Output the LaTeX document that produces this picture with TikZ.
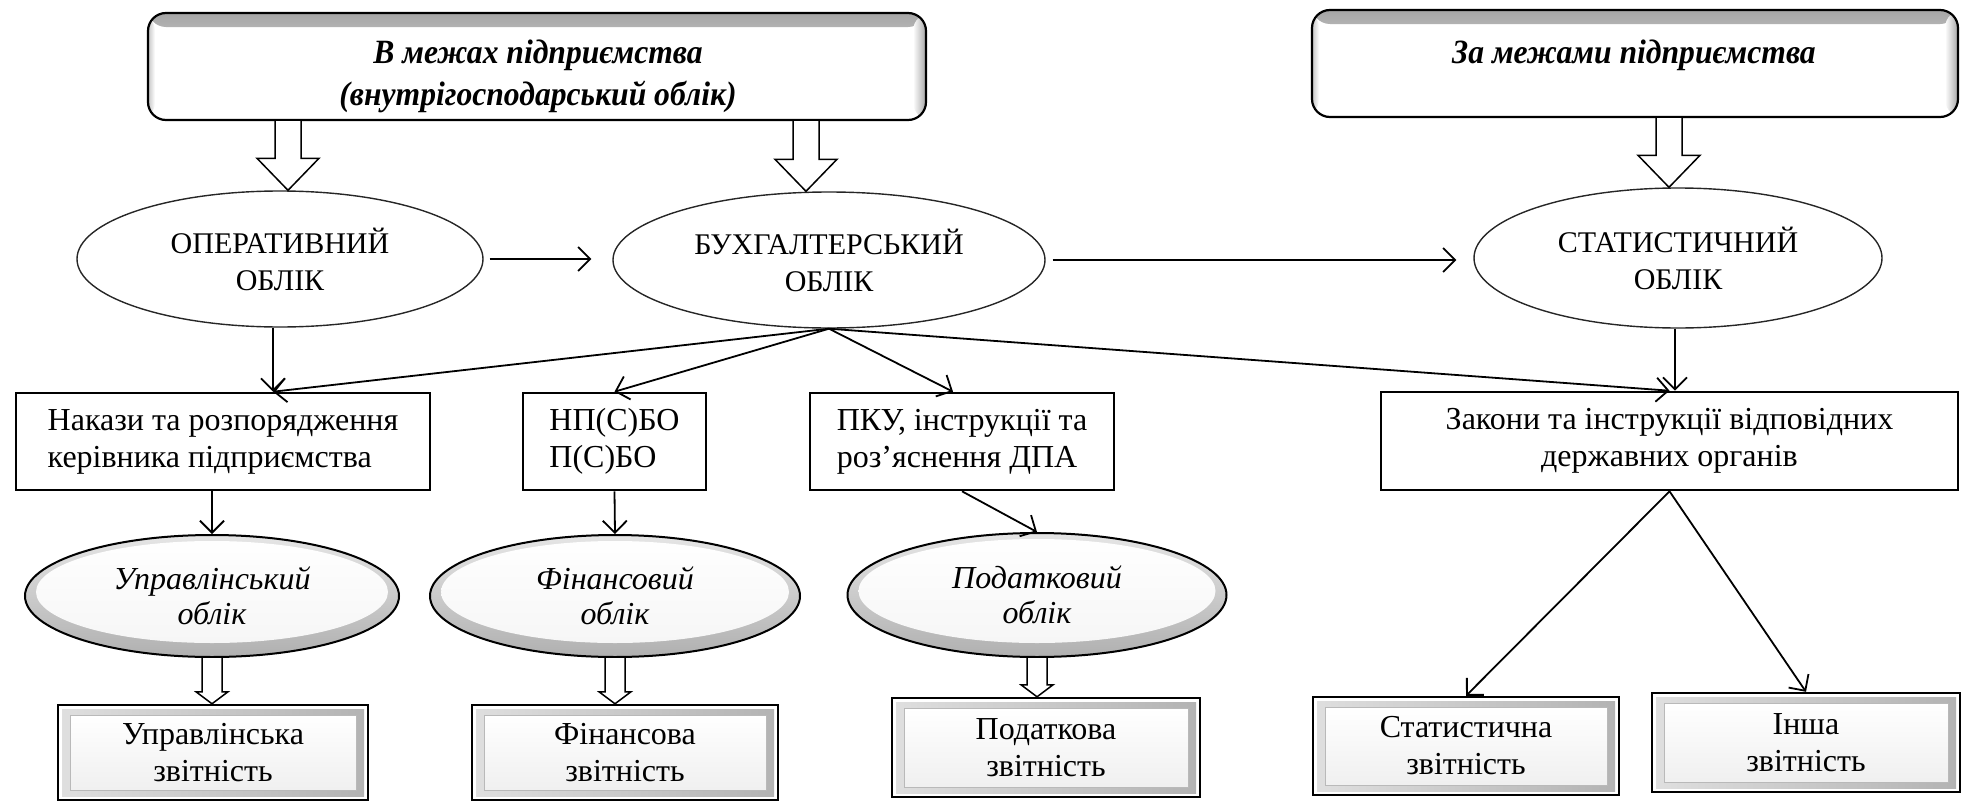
\documentclass[tikz,border=0pt]{standalone}
\usepackage{fontspec}
\setmainfont{Liberation Serif}
\newfontfamily\ttlfont{Liberation Serif}[FakeStretch=0.93]
\usetikzlibrary{shapes.geometric,arrows.meta,calc}
% #1 from node, #2 to node, #3 node giving x, #4 shaft half width, #5 head half width, #6 head length, #7 x offset
\newcommand\hollowdown[7]{%
 \draw[hollow] let \p1=(#1.south), \p2=(#2.north), \p3=([xshift=#7pt]#3.north) in
  ({\x3-#4pt},{\y1}) -- ({\x3-#4pt},{\y2+#6pt}) -- ({\x3-#5pt},{\y2+#6pt}) -- ({\x3},{\y2})
  -- ({\x3+#5pt},{\y2+#6pt}) -- ({\x3+#4pt},{\y2+#6pt}) -- ({\x3+#4pt},{\y1});}
\begin{document}
\begin{tikzpicture}[x=1pt,y=-1pt,
 txt/.style={font=\fontsize{32}{37}\selectfont},
 ttl/.style={font=\fontsize{34}{42}\selectfont\ttlfont\bfseries\itshape, align=center, inner sep=0pt},
 con/.style={line width=1.8pt, -{Straight Barb[length=12pt,width=24pt]}},
 hollow/.style={draw, line width=1.5pt, fill=white, line join=miter},
 topbox/.style={draw, line width=2.2pt, rounded corners=18pt, fill=white, inner sep=0pt,
   path picture={
     \shade[top color=gray!70, bottom color=white] (path picture bounding box.north west) rectangle ([yshift=-14pt]path picture bounding box.north east);
     \shade[left color=white, right color=gray!70] ([xshift=-13pt]path picture bounding box.south east) rectangle (path picture bounding box.north east);
     \shade[left color=gray!45, right color=white] (path picture bounding box.south west) rectangle ([xshift=7pt]path picture bounding box.north west);
   }},
 ell/.style={ellipse, draw=black!85, line width=1.4pt, inner sep=0pt, align=center, font=\fontsize{30}{37}\selectfont},
 sell/.style={ellipse, draw, line width=2pt, inner sep=0pt, align=center,
   font=\fontsize{32}{35}\selectfont\itshape, top color=gray!20, bottom color=gray!62,
   path picture={
     \shade[top color=white, bottom color=gray!8] let \p1=(path picture bounding box.north east), \p2=(path picture bounding box.center) in
       ([yshift=4pt]\x2,\y2) ellipse [x radius={\x1-\x2-11pt}, y radius={\y1-\y2-10pt}];
   }},
 mbox/.style={draw, line width=2.6pt, inner sep=0pt, txt},
 rbox/.style={draw, line width=2.4pt, inner sep=0pt, align=center, txt, fill=white,
   path picture={
     \shade[left color=gray!25, right color=gray!60] ([xshift=4pt,yshift=4pt]path picture bounding box.south west) rectangle ([xshift=-4pt,yshift=-4pt]path picture bounding box.north east);
     \shade[top color=white, bottom color=gray!12, draw=gray!55, line width=0.6pt] ([xshift=12pt,yshift=10pt]path picture bounding box.south west) rectangle ([xshift=-12pt,yshift=-10pt]path picture bounding box.north east);
   }}
]
\useasboundingbox (0,0) rectangle (1966,803);

% top boxes
\node[topbox, minimum width=778pt, minimum height=107pt] (tl) at (537,66.5) {};
\node[ttl] (tlt) at (538,76) {В межах підприємства\\(внутрігосподарський облік)};
\node[topbox, minimum width=646pt, minimum height=107pt] (tr) at (1635,63.5) {};
\node[ttl] (trt) at (1634,55) {За межами підприємства};

% ellipses
\node[ell, minimum width=406pt, minimum height=136pt] (op) at (280,259) {ОПЕРАТИВНИЙ\\ОБЛІК};
\node[ell, minimum width=432pt, minimum height=136pt] (bux) at (829,260) {БУХГАЛТЕРСЬКИЙ\\ОБЛІК};
\node[ell, minimum width=408pt, minimum height=140pt] (stat) at (1678,258) {СТАТИСТИЧНИЙ\\ОБЛІК};

% middle boxes
\node[mbox, minimum width=414pt, minimum height=97pt, align=left] (nak) at (223,441.5) {Накази та розпорядження\\керівника підприємства};
\node[mbox, minimum width=183pt, minimum height=97pt, align=left] (np) at (614.5,441.5) {НП(С)БО\\П(С)БО};
\node[mbox, minimum width=304pt, minimum height=97pt, align=left] (pku) at (962,441.5) {ПКУ, інструкції та\\роз’яснення ДПА};
\node[mbox, minimum width=577pt, minimum height=98pt, align=center] (zak) at (1669.5,441) {Закони та інструкції відповідних\\державних органів};

% shaded ellipses
\node[sell, minimum width=374pt, minimum height=122pt] (upr) at (212,596) {Управлінський\\облік};
\node[sell, minimum width=370pt, minimum height=122pt] (fin) at (615,596) {Фінансовий\\облік};
\node[sell, minimum width=379pt, minimum height=124pt] (pod) at (1037,595) {Податковий\\облік};

% bottom boxes
\node[rbox, minimum width=310pt, minimum height=95pt] (uprb) at (213,752.5) {Управлінська\\звітність};
\node[rbox, minimum width=306pt, minimum height=95pt] (finb) at (625,752.5) {Фінансова\\звітність};
\node[rbox, minimum width=308pt, minimum height=99pt] (podb) at (1046,747.5) {Податкова\\звітність};
\node[rbox, minimum width=306pt, minimum height=98pt] (statb) at (1466,746) {Статистична\\звітність};
\node[rbox, minimum width=308pt, minimum height=99pt] (inb) at (1806,742.5) {Інша\\звітність};

% hollow block arrows
\hollowdown{tl}{op}{op}{13}{31}{32}{8}
\hollowdown{tl}{bux}{bux}{13}{31}{32}{-23}
\hollowdown{tr}{stat}{stat}{13}{31}{32}{-9}
\hollowdown{upr}{uprb}{upr}{10}{16}{12}{0}
\hollowdown{fin}{finb}{fin}{10}{16}{12}{0}
\hollowdown{pod}{podb}{pod}{10}{16}{12}{0}

% connectors
\draw[con] ([xshift=-7pt]op.south) -- ([xshift=-7pt]nak.north -| op.south);
\draw[con] (bux.south) -- ([xshift=-7pt]nak.north -| op.south);
\draw[con] (bux.south) -- (np.north);
\draw[con] (bux.south) -- ([xshift=-9pt]pku.north);
\draw[con] (bux.south) -- (zak.north);
\draw[con] ([xshift=-3pt]stat.south) -- ([xshift=-3pt]stat.south |- zak.north);
\draw[con, shorten <=6pt, shorten >=21pt] (op.east) -- (op.east -| bux.west);
\draw[con, shorten <=7pt, shorten >=17pt] (bux.east) -- (bux.east -| stat.west);
\draw[con] (nak.south -| upr.north) -- (upr.north);
\draw[con] (np.south) -- (fin.north);
\draw[con] (pku.south) -- (pod.north);
\draw[con] (zak.south) -- (statb.north);
\draw[con] (zak.south) -- (inb.north);
\end{tikzpicture}
\end{document}
